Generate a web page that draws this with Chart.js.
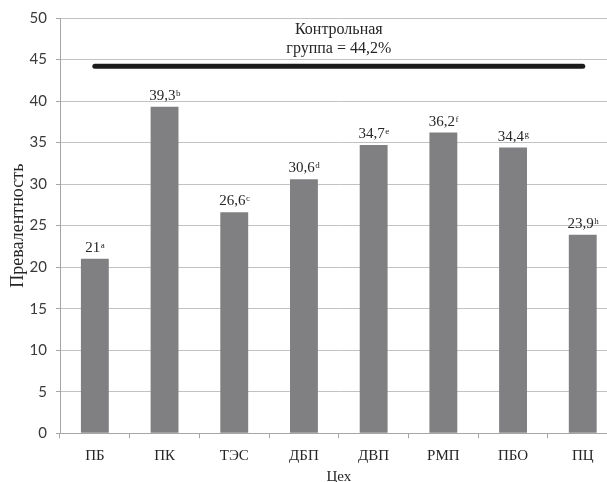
<!DOCTYPE html>
<html lang="ru">
<head>
<meta charset="utf-8">
<title>Превалентность по цехам</title>
<script src="https://cdn.jsdelivr.net/npm/chart.js@4/dist/chart.umd.min.js"></script>
<style>
  html, body { margin: 0; padding: 0; background: #fff; overflow: hidden; }
  #wrap { width: 620px; height: 482px; }
</style>
</head>
<body>
<div id="wrap"><canvas id="chart" width="620" height="482"></canvas></div>
<script>
// Workshops and prevalence values (%)
const categories = ['ПБ', 'ПК', 'ТЭС', 'ДБП', 'ДВП', 'РМП', 'ПБО', 'ПЦ'];
const prevalence = [21, 39.3, 26.6, 30.6, 34.7, 36.2, 34.4, 23.9];
const markers = ['a', 'b', 'c', 'd', 'e', 'f', 'g', 'h'];
// Control group level, drawn as a line across all workshops
const controlGroup = 44.2;
const controlLabel = ['Контрольная', 'группа = 44,2%'];
const yMin = 0, yMax = 50, yStep = 5;

const SERIF = '"Liberation Serif", "Times New Roman", serif';
const SANS = 'Lato, "Open Sans", sans-serif';

const fmt = v => String(v).replace('.', ',');

// Value labels with superscript letters above each bar, and the control group caption
const annotations = {
  id: 'annotations',
  afterDatasetsDraw(chart) {
    const ctx = chart.ctx;
    const meta = chart.getDatasetMeta(1);
    ctx.save();
    ctx.fillStyle = '#262626';
    ctx.textBaseline = 'alphabetic';
    meta.data.forEach((bar, i) => {
      const main = fmt(prevalence[i]);
      const sup = markers[i];
      ctx.font = '15px ' + SERIF;
      const wMain = ctx.measureText(main).width;
      ctx.font = '9px ' + SERIF;
      const wSup = ctx.measureText(sup).width;
      const x0 = bar.x - (wMain + wSup) / 2;
      const base = bar.y - 7;
      ctx.textAlign = 'left';
      ctx.font = '15px ' + SERIF;
      ctx.fillText(main, x0, base);
      ctx.font = '9px ' + SERIF;
      ctx.fillText(sup, x0 + wMain + 0.5, base - 4);
    });

    const line = chart.getDatasetMeta(0).data;
    const cx = (line[0].x + line[line.length - 1].x) / 2;
    ctx.font = '16px ' + SERIF;
    ctx.textAlign = 'center';
    ctx.fillText(controlLabel[0], cx, chart.chartArea.top + 16);
    ctx.fillText(controlLabel[1], cx, chart.chartArea.top + 35);
    ctx.restore();
  }
};

new Chart(document.getElementById('chart'), {
  data: {
    labels: categories,
    datasets: [
      {
        type: 'line',
        data: categories.map(() => controlGroup),
        borderColor: '#1c1c1c',
        borderWidth: 5,
        borderCapStyle: 'round',
        pointRadius: 0,
        fill: false,
        order: 0
      },
      {
        type: 'bar',
        data: prevalence,
        backgroundColor: '#808082',
        borderWidth: 0,
        barPercentage: 0.4,
        categoryPercentage: 1,
        order: 1
      }
    ]
  },
  options: {
    responsive: false,
    animation: false,
    events: [],
    layout: { padding: { top: 18, right: 2.4, left: 0, bottom: 0 } },
    plugins: {
      legend: { display: false },
      tooltip: { enabled: false }
    },
    scales: {
      x: {
        offset: true,
        grid: { drawOnChartArea: false, tickLength: 5, tickColor: '#a6a6a6' },
        border: { color: '#a6a6a6', width: 1 },
        ticks: { color: '#262626', font: { family: SERIF, size: 15 }, padding: 9, maxRotation: 0 },
        title: {
          display: true,
          text: 'Цех',
          color: '#262626',
          font: { family: SERIF, size: 15, lineHeight: 1 },
          padding: { top: 0, bottom: -3 }
        },
        afterFit(scale) { scale.height = 48.7; }
      },
      y: {
        min: yMin,
        max: yMax,
        ticks: { stepSize: yStep, color: '#3a3a3a', font: { family: SANS, size: 15 }, padding: 9 },
        grid: { color: '#c2c2c2', lineWidth: 1, tickLength: 4, tickColor: '#a6a6a6' },
        border: { color: '#a6a6a6', width: 1 },
        title: {
          display: true,
          text: 'Превалентность',
          color: '#262626',
          font: { family: SERIF, size: 18, lineHeight: 1.2 },
          padding: { top: 7, bottom: 0 }
        },
        afterFit(scale) { scale.width = 60; }
      }
    }
  },
  plugins: [annotations]
});
</script>
</body>
</html>
